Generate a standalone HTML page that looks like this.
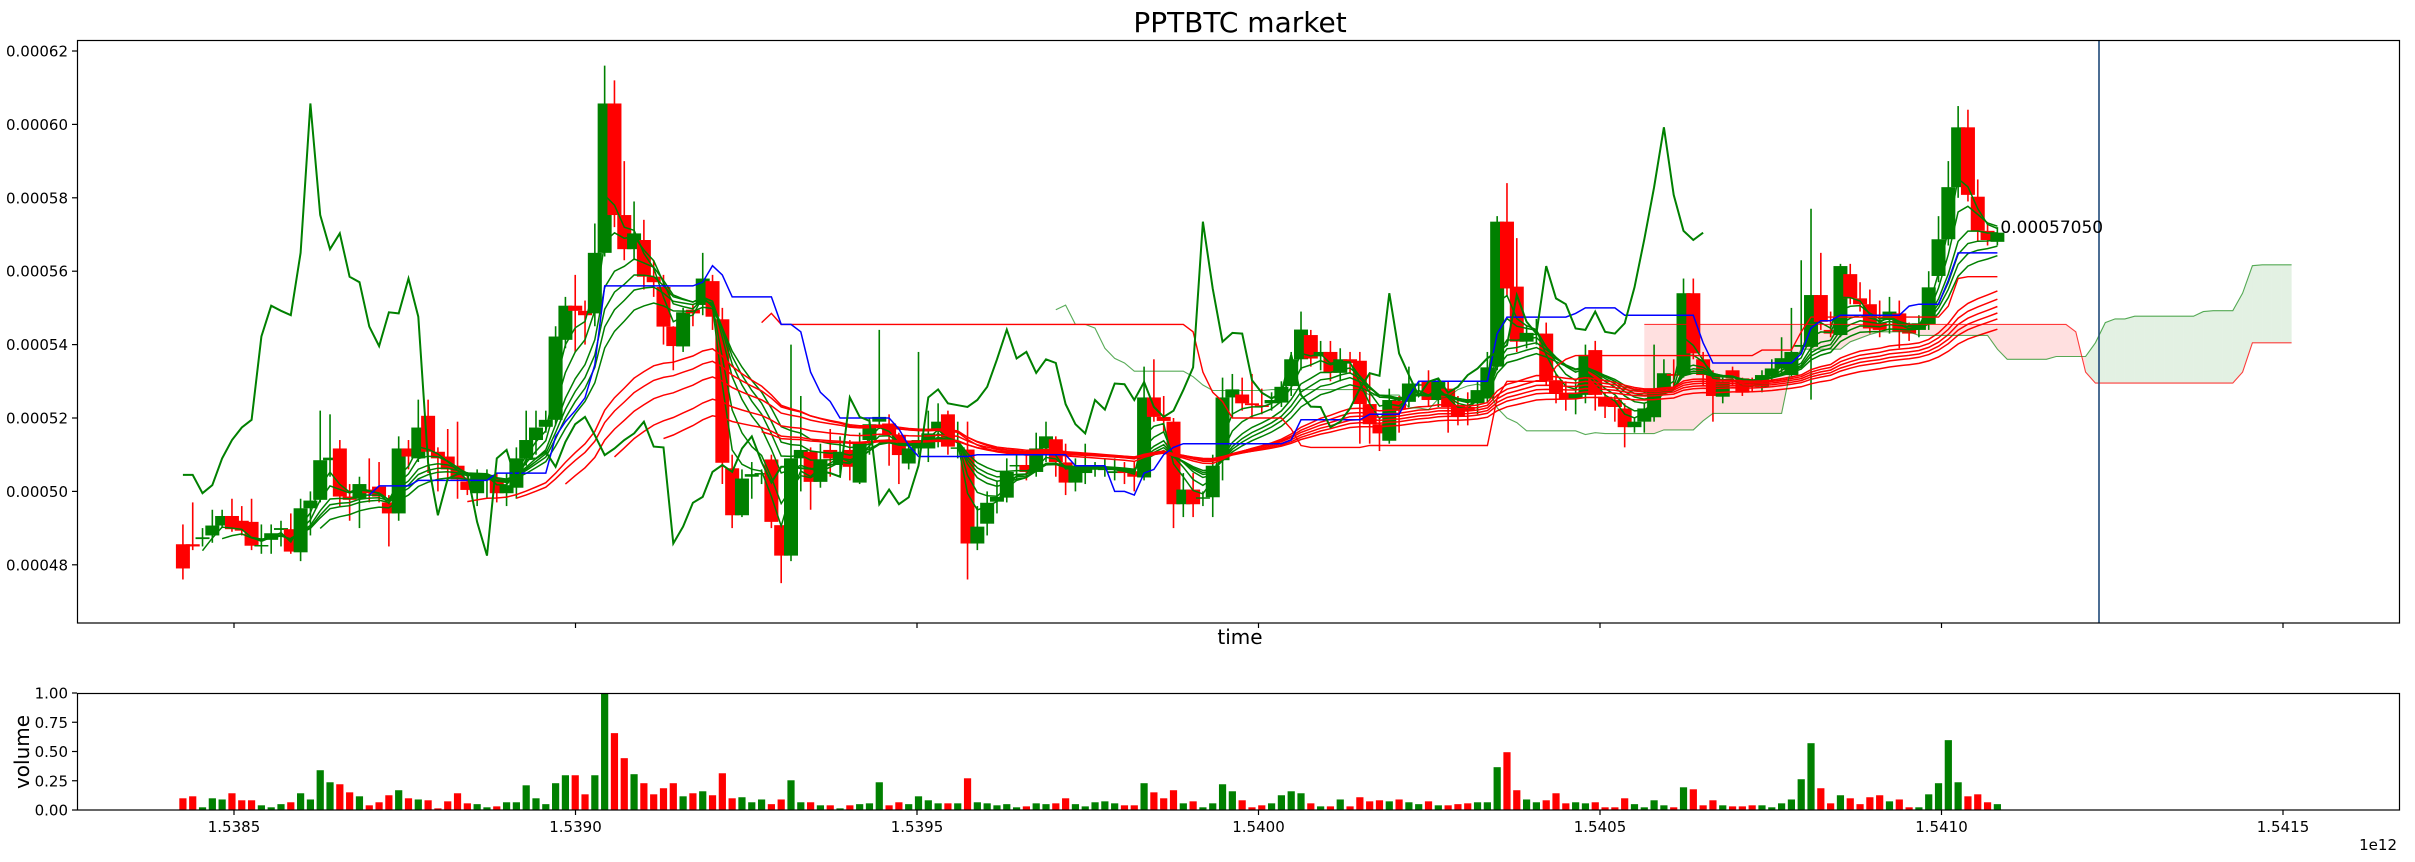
<!DOCTYPE html>
<html><head><meta charset="utf-8"><title>PPTBTC market</title>
<style>
html,body{margin:0;padding:0;background:#fff;}
svg{display:block;font-family:"DejaVu Sans","Liberation Sans",sans-serif;}
</style></head>
<body>
<svg id="chart" width="2415" height="862" viewBox="0 0 2415 862" xmlns="http://www.w3.org/2000/svg">
<defs>
<clipPath id="mainClip"><rect x="77" y="40" width="2323" height="583"/></clipPath>
<clipPath id="volClip"><rect x="77" y="693" width="2323" height="117"/></clipPath>
</defs>
<rect x="0" y="0" width="2415" height="862" fill="#fff"/>
<text x="1240" y="32" text-anchor="middle" font-size="28" fill="#000">PPTBTC market</text>
<g id="main"></g>
<g id="vol"></g>
<text x="1240" y="644" text-anchor="middle" font-size="20" fill="#000">time</text>
<text x="0" y="0" transform="translate(29,752) rotate(-90)" text-anchor="middle" font-size="20" fill="#000">volume</text>
<text x="2397" y="850" text-anchor="end" font-size="15" fill="#000">1e12</text>
</svg>
<script>
// ---- data (prices in units of 1e-5 BTC) ----
const T0 = 1538425200000;
const STEP = 14360000;
const NOW_T = 1541230600000;
const LAST_LABEL = "0.00057050";
const opens = [48.56,48.56,48.70,48.80,49.07,49.33,49.20,49.17,48.50,48.68,48.95,48.97,48.34,49.54,49.77,50.85,51.17,49.86,49.80,50.05,50.13,49.70,49.40,51.17,50.90,52.06,51.08,50.95,50.70,50.27,49.95,50.30,50.35,49.95,50.10,50.90,51.40,51.76,51.95,54.13,55.06,54.92,54.85,56.50,60.57,57.53,56.60,56.85,55.85,55.57,54.49,53.95,54.95,55.08,55.73,54.69,50.63,49.35,50.40,50.50,50.87,49.08,48.25,50.90,51.08,50.26,51.13,50.72,51.13,50.24,51.40,51.90,51.85,51.53,50.76,51.17,51.17,51.67,52.10,51.20,51.14,48.58,49.12,49.72,49.83,50.70,50.72,50.53,51.17,51.42,50.79,50.24,50.50,50.60,50.60,50.50,50.55,50.55,50.38,52.56,52.03,51.90,49.65,50.05,49.80,49.84,50.85,52.56,52.64,52.40,52.35,52.40,52.42,52.87,53.60,54.26,53.68,53.80,53.23,53.60,53.56,52.38,51.83,51.38,52.47,52.44,52.90,52.98,52.49,52.80,52.35,52.30,52.40,52.53,53.40,57.35,55.58,54.08,54.30,54.30,53.03,52.67,52.53,52.63,53.85,52.58,52.50,52.26,51.75,51.90,52.02,52.80,53.20,53.17,55.40,53.60,53.17,52.58,53.30,53.08,52.90,52.85,53.15,53.35,53.17,53.94,53.94,55.35,54.40,54.26,55.92,55.26,55.10,54.60,54.67,54.85,54.49,54.40,54.56,55.87,56.87,58.29,59.92,58.03,57.10,56.80];
const closes = [47.90,48.50,48.75,49.07,49.33,48.97,48.93,48.52,48.54,48.86,49.00,48.36,49.54,49.75,50.85,50.92,49.86,49.77,50.20,49.95,49.86,49.40,51.17,50.95,51.74,51.08,50.90,50.60,50.33,50.04,50.45,50.45,49.95,50.17,50.90,51.40,51.74,51.95,54.22,55.06,54.92,54.80,56.50,60.57,57.53,56.60,57.03,55.85,55.70,54.49,53.96,54.88,54.85,55.80,54.76,50.78,49.35,50.35,50.47,50.50,49.17,48.25,50.90,51.13,50.26,50.87,50.90,51.08,50.67,51.35,51.83,52.03,51.53,50.99,51.17,51.40,51.58,51.90,51.22,51.20,48.58,49.04,49.69,49.85,50.53,50.72,50.53,51.17,51.50,50.80,50.24,50.67,50.67,50.63,50.62,50.55,50.50,50.40,52.56,52.03,51.92,49.65,50.05,49.65,49.84,50.70,52.56,52.78,52.40,52.35,52.30,52.49,52.85,53.60,54.41,53.62,53.80,53.23,53.60,53.50,52.38,51.83,51.58,52.49,52.23,52.94,52.92,52.49,52.98,52.30,52.03,52.20,52.76,53.38,57.35,55.53,54.08,54.32,54.30,53.03,52.69,52.53,52.69,53.72,52.63,52.31,52.30,51.75,51.90,52.26,52.80,53.22,53.15,55.40,53.76,53.17,52.60,52.99,53.08,52.69,52.85,53.17,53.35,53.63,53.80,53.99,55.35,54.62,54.30,56.14,55.26,55.10,54.44,54.40,54.90,54.35,54.30,54.58,55.56,56.87,58.29,59.92,58.08,57.10,56.85,57.05];
const highs = [49.1,49.7,49.0,49.5,49.5,49.8,49.6,49.8,49.1,49.1,49.2,49.4,49.8,50.0,52.2,52.1,51.4,50.2,50.4,50.9,50.8,49.9,51.5,51.4,52.5,52.5,51.2,51.7,51.9,50.5,50.6,50.6,50.5,50.5,51.2,52.2,52.2,52.2,54.5,55.3,55.9,55.2,57.3,61.6,61.2,59.0,57.9,57.4,56.3,55.9,54.5,55.0,55.1,56.5,55.9,55.0,51.0,50.6,50.8,50.6,51.0,49.1,54.0,52.6,51.2,51.3,51.7,51.5,51.4,51.6,52.0,54.4,52.1,51.6,51.3,53.8,52.2,52.4,52.2,51.9,51.9,49.6,50.0,50.3,50.9,51.0,51.0,51.6,51.9,51.5,51.3,50.9,51.3,50.8,50.9,50.9,50.8,50.8,53.4,53.6,52.6,52.0,50.5,50.5,50.0,51.0,53.1,53.2,53.1,53.2,52.8,52.7,53.0,53.8,54.9,54.4,54.1,54.1,53.9,53.8,53.8,53.2,52.0,52.8,52.6,53.4,53.0,53.3,53.1,53.0,52.6,52.7,53.0,53.8,57.5,58.4,56.9,54.5,54.7,54.6,53.2,53.0,53.0,54.0,54.1,52.7,52.6,52.4,52.0,52.4,54.0,53.6,53.6,55.8,55.8,53.8,53.3,53.1,53.4,53.1,53.1,53.3,53.6,54.2,55.0,56.3,57.7,56.5,54.9,56.2,56.2,55.7,55.5,55.2,55.3,55.2,54.6,54.8,56.0,57.5,59.0,60.5,60.4,58.5,57.3,57.2];
const lows = [47.6,48.4,48.5,48.6,49.0,48.9,48.8,48.4,48.3,48.3,48.5,48.3,48.1,48.8,49.7,50.4,49.6,49.2,49.0,49.7,49.7,48.5,49.2,50.6,50.8,50.5,50.0,50.3,49.8,49.9,49.6,49.8,49.7,49.6,49.8,50.7,51.0,51.6,51.8,53.9,53.8,54.0,54.5,56.4,57.2,56.3,56.3,55.5,55.3,54.0,53.3,53.8,54.5,54.8,54.4,50.2,49.0,49.3,49.8,50.2,49.0,47.5,48.1,50.0,49.5,50.1,50.4,50.5,50.3,50.2,51.0,51.7,50.7,50.2,50.6,51.0,50.8,51.2,51.0,50.9,47.6,48.4,48.8,49.4,49.7,50.3,50.3,50.4,50.8,50.4,49.9,50.0,50.2,50.4,50.4,50.3,50.2,50.0,50.3,51.9,51.6,49.0,49.3,49.3,49.6,49.3,50.3,52.0,52.2,52.0,52.1,52.2,52.3,52.6,53.3,53.4,53.3,53.0,53.0,53.2,51.3,51.3,51.1,51.3,51.6,52.3,52.6,52.3,52.3,51.6,51.8,51.8,52.1,52.4,53.3,55.3,53.8,53.9,54.0,52.9,52.4,52.2,52.1,52.4,52.2,52.0,51.9,51.2,51.6,51.6,51.9,52.7,52.8,53.1,53.6,52.9,51.9,52.4,52.9,52.6,52.7,52.7,53.0,53.2,53.1,53.8,52.5,54.4,54.2,54.2,55.1,54.9,54.3,54.2,54.3,53.9,54.1,54.2,54.4,55.7,56.7,58.0,57.9,56.8,56.7,56.7];
const volumes = [0.10,0.117,0.023,0.10,0.09,0.143,0.083,0.083,0.04,0.023,0.05,0.066,0.143,0.09,0.34,0.237,0.22,0.151,0.117,0.04,0.066,0.126,0.169,0.10,0.09,0.083,0.014,0.074,0.143,0.057,0.05,0.023,0.031,0.066,0.066,0.211,0.10,0.05,0.229,0.297,0.297,0.134,0.297,1.0,0.657,0.443,0.306,0.229,0.134,0.186,0.229,0.117,0.143,0.16,0.126,0.314,0.10,0.109,0.066,0.09,0.05,0.09,0.254,0.066,0.066,0.04,0.04,0.014,0.04,0.05,0.057,0.237,0.04,0.066,0.05,0.117,0.083,0.057,0.057,0.057,0.271,0.066,0.057,0.04,0.05,0.023,0.031,0.057,0.05,0.057,0.10,0.05,0.031,0.066,0.074,0.057,0.04,0.04,0.229,0.151,0.10,0.169,0.057,0.074,0.023,0.057,0.22,0.16,0.083,0.023,0.04,0.057,0.126,0.16,0.143,0.057,0.031,0.031,0.09,0.031,0.109,0.074,0.083,0.074,0.09,0.066,0.05,0.074,0.04,0.04,0.05,0.057,0.066,0.066,0.366,0.494,0.169,0.09,0.066,0.083,0.143,0.057,0.066,0.057,0.066,0.023,0.023,0.10,0.05,0.023,0.083,0.04,0.023,0.194,0.177,0.04,0.083,0.04,0.031,0.031,0.04,0.04,0.023,0.057,0.09,0.263,0.571,0.186,0.057,0.126,0.10,0.05,0.109,0.126,0.074,0.09,0.023,0.023,0.134,0.229,0.597,0.237,0.117,0.134,0.066,0.05];
const yTicks = [48,50,52,54,56,58,60,62];
const yTickLabels = ["0.00048","0.00050","0.00052","0.00054","0.00056","0.00058","0.00060","0.00062"];
const xTicks = [1.5385e12,1.5390e12,1.5395e12,1.5400e12,1.5405e12,1.5410e12,1.5415e12];
const xTickLabels = ["1.5385","1.5390","1.5395","1.5400","1.5405","1.5410","1.5415"];
const vTicks = [0,0.25,0.5,0.75,1.0];
const vTickLabels = ["0.00","0.25","0.50","0.75","1.00"];
const greenPeriods = [3,5,8,10,12,15];
const redPeriods = [30,35,40,45,50,60];

// ---- scales ----
const NS = "http://www.w3.org/2000/svg";
const X0 = 234, PX_PER = 341.5 / 5e8;
function xs(t){ return X0 + (t - 1.5385e12) * PX_PER; }
function ys(p){ return 51 + (62 - p) * 36.7; }
function vy(v){ return 810 - v * 117; }
const N = closes.length;
function tAt(i){ return T0 + i * STEP; }
const main = document.getElementById('main');
const vol = document.getElementById('vol');
function mk(tag, attrs, parent){
  const e = document.createElementNS(NS, tag);
  for (const k in attrs) e.setAttribute(k, attrs[k]);
  parent.appendChild(e);
  return e;
}
const mainPlot = mk('g', {'clip-path':'url(#mainClip)'}, main);



// ---- indicators ----
function midRange(n, i){
  if (i < n - 1) return null;
  let h = -1e9, l = 1e9;
  for (let k = i - n + 1; k <= i; k++){ h = Math.max(h, highs[k]); l = Math.min(l, lows[k]); }
  return (h + l) / 2;
}
function ema(n){
  const out = new Array(N).fill(null);
  if (N < n) return out;
  let s = 0; for (let k = 0; k < n; k++) s += closes[k];
  let v = s / n; out[n-1] = v;
  const a = 2 / (n + 1);
  for (let k = n; k < N; k++){ v = a * closes[k] + (1 - a) * v; out[k] = v; }
  return out;
}
const tenkan = [], kijun = [];
for (let i = 0; i < N; i++){ tenkan.push(midRange(20, i)); kijun.push(midRange(60, i)); }
const DISP = 30;
const spanA = new Array(N + DISP).fill(null), spanB = new Array(N + DISP).fill(null);
for (let i = 0; i < N; i++){
  if (tenkan[i] !== null && kijun[i] !== null) spanA[i + DISP] = (tenkan[i] + kijun[i]) / 2;
  const b = midRange(120, i); if (b !== null) spanB[i + DISP] = b;
}
const chikou = [];
for (let i = 0; i + DISP < N; i++) chikou.push(closes[i + DISP]);

function pathFrom(vals){
  let d = '', pen = false;
  vals.forEach((v, i) => {
    if (v === null || v === undefined){ pen = false; return; }
    d += (pen ? 'L' : 'M') + xs(tAt(i)).toFixed(1) + ',' + ys(v).toFixed(1);
    pen = true;
  });
  return d;
}

// cloud fill
(function(){
  let start = -1;
  for (let i = 0; i < spanA.length; i++) if (spanA[i] !== null && spanB[i] !== null){ start = i; break; }
  if (start < 0) return;
  for (let i = start; i < spanA.length - 1; i++){
    const a0 = spanA[i], b0 = spanB[i], a1 = spanA[i+1], b1 = spanB[i+1];
    const x0 = xs(tAt(i)), x1 = xs(tAt(i+1));
    const up = (a0 + a1) >= (b0 + b1);
    const poly = mk('polygon', {
      points: `${x0},${ys(a0)} ${x1},${ys(a1)} ${x1},${ys(b1)} ${x0},${ys(b0)}`,
      fill: up ? 'rgba(0,128,0,0.11)' : 'rgba(255,0,0,0.12)', stroke: 'none'
    }, mainPlot);
    
    
  }
})();

// candles
for (let i = 0; i < N; i++){
  const up = closes[i] >= opens[i];
  const col = up ? '#008000' : '#ff0000';
  const x = xs(tAt(i));
  const wick = mk('line', {x1:x, x2:x, y1:ys(highs[i]), y2:ys(lows[i]), stroke:col, 'stroke-width':1.6}, mainPlot);
  
  
  const top = ys(Math.max(opens[i], closes[i])), bot = ys(Math.min(opens[i], closes[i]));
  const body = mk('rect', {x:x-7, y:top, width:14, height:Math.max(bot-top, 1.5), fill:col}, mainPlot);
  
  
}

// GMMA ribbons
greenPeriods.forEach(p => {
  const l = mk('path', {d:pathFrom(ema(p)), fill:'none', stroke:'#008000', 'stroke-width':1.5}, mainPlot);
  
  
});
redPeriods.forEach(p => {
  const l = mk('path', {d:pathFrom(ema(p)), fill:'none', stroke:'#ff0000', 'stroke-width':1.5}, mainPlot);
  
  
});

// ichimoku lines
const lA = mk('path', {d:pathFrom(spanA), fill:'none', stroke:'rgba(0,128,0,0.65)', 'stroke-width':1.1}, mainPlot);


const lB = mk('path', {d:pathFrom(spanB), fill:'none', stroke:'rgba(255,0,0,0.75)', 'stroke-width':1.1}, mainPlot);


const lK = mk('path', {d:pathFrom(kijun), fill:'none', stroke:'#ff0000', 'stroke-width':1.4}, mainPlot);


const lT = mk('path', {d:pathFrom(tenkan), fill:'none', stroke:'#0000ff', 'stroke-width':1.5}, mainPlot);


const lC = mk('path', {d:pathFrom(chikou), fill:'none', stroke:'#008000', 'stroke-width':2}, mainPlot);



// now line
const nowLine = mk('line', {x1:xs(NOW_T), x2:xs(NOW_T), y1:40, y2:623, stroke:'#1f4a7a', 'stroke-width':1.6}, mainPlot);



// last price label
const lbl = mk('text', {x:xs(tAt(N-1)) + 3, y:ys(closes[N-1]) + 0.5, 'font-size':17, fill:'#000'}, main);
lbl.textContent = LAST_LABEL;



// main axes frame & ticks
const f1 = mk('rect', {x:77.5, y:40.5, width:2322, height:582.5, fill:'none', stroke:'#000', 'stroke-width':1.2}, main);


yTicks.forEach((v, k) => {
  const y = ys(v);
  const t = mk('line', {x1:72, x2:77, y1:y, y2:y, stroke:'#000', 'stroke-width':1.2}, main);
  
  
  const tx = mk('text', {x:68, y:y + 5.5, 'text-anchor':'end', 'font-size':15, fill:'#000'}, main);
  tx.textContent = yTickLabels[k];
  
  
});
xTicks.forEach(t => {
  const x = xs(t);
  const tk = mk('line', {x1:x, x2:x, y1:623, y2:628, stroke:'#000', 'stroke-width':1.2}, main);
  
  
});

// volume panel
const volPlot = mk('g', {'clip-path':'url(#volClip)'}, vol);


volumes.forEach((v, i) => {
  const up = closes[i] >= opens[i];
  const x = xs(tAt(i));
  const b = mk('rect', {x:x-3.6, y:vy(v), width:7.2, height:810 - vy(v), fill: up ? '#008000' : '#ff0000'}, volPlot);
  
  
});
const f2 = mk('rect', {x:77.5, y:693.5, width:2322, height:116.5, fill:'none', stroke:'#000', 'stroke-width':1.2}, vol);


vTicks.forEach((v, k) => {
  const y = vy(v);
  const t = mk('line', {x1:72, x2:77, y1:y, y2:y, stroke:'#000', 'stroke-width':1.2}, vol);
  
  
  const tx = mk('text', {x:68, y:y + 5.5, 'text-anchor':'end', 'font-size':15, fill:'#000'}, vol);
  tx.textContent = vTickLabels[k];
  
  
});
xTicks.forEach((t, k) => {
  const x = xs(t);
  const tk = mk('line', {x1:x, x2:x, y1:810, y2:815, stroke:'#000', 'stroke-width':1.2}, vol);
  
  
  const tx = mk('text', {x:x, y:832, 'text-anchor':'middle', 'font-size':15, fill:'#000'}, vol);
  tx.textContent = xTickLabels[k];
  
  
});
</script>
</body></html>
